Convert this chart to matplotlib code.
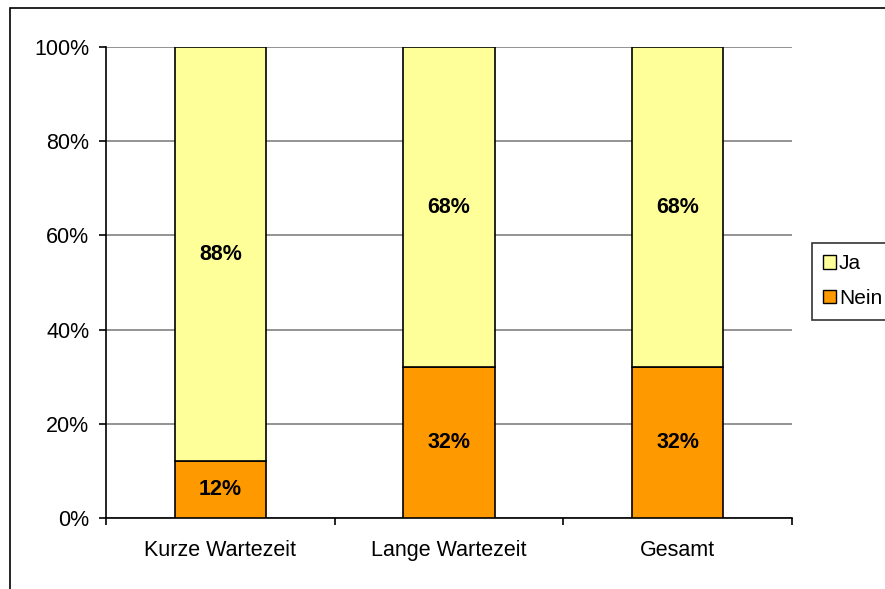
import matplotlib.pyplot as plt
from matplotlib.patches import Patch, Rectangle
import numpy as np

plt.rcParams['font.family'] = ['Liberation Sans', 'DejaVu Sans']

# Data
categories = ["Kurze Wartezeit", "Lange Wartezeit", "Gesamt"]
nein = [12, 32, 32]
ja = [88, 68, 68]
series_names = ["Ja", "Nein"]
col_ja = "#FFFF99"
col_nein = "#FF9900"

fig = plt.figure(figsize=(8.85, 5.89), dpi=100)
ax = fig.add_axes([106 / 885, 71 / 589, 686 / 885, 471 / 589])

x = np.arange(len(categories))
ax.bar(x, nein, width=0.4, color=col_nein, edgecolor="black", linewidth=1.2, zorder=3)
ax.bar(x, ja, width=0.4, bottom=nein, color=col_ja, edgecolor="black", linewidth=1.2, zorder=3)

for i in range(len(categories)):
    ax.text(x[i], nein[i] / 2, f"{nein[i]}%", ha="center", va="center",
            fontsize=15.5, fontweight="bold", zorder=4)
    ax.text(x[i], nein[i] + ja[i] / 2, f"{ja[i]}%", ha="center", va="center",
            fontsize=15.5, fontweight="bold", zorder=4)

ax.set_xlim(-0.5, len(categories) - 0.5)
ax.set_ylim(0, 100)
ax.set_yticks(np.arange(0, 101, 20))
ax.set_yticklabels([f"{v}%" for v in range(0, 101, 20)], fontsize=15.5)
ax.set_xticks(x)
ax.set_xticklabels(categories, fontsize=15.5)
ax.tick_params(axis="x", length=0, pad=16)
ax.set_xticks(np.arange(-0.5, len(categories), 1), minor=True)
ax.tick_params(axis="x", which="minor", length=5, direction="out", width=1.2)
ax.tick_params(axis="y", length=5, direction="out", width=1.2, pad=7)

ax.grid(axis="y", color="#808080", linewidth=1.2, zorder=0)
ax.spines["top"].set_visible(False)
ax.spines["right"].set_visible(False)
ax.spines["left"].set_linewidth(1.2)
ax.spines["bottom"].set_linewidth(1.2)

# outer chart frame
fig.patches.append(Rectangle((10 / 885, -0.1), 1.2, (589 - 8) / 589 + 0.1,
                             transform=fig.transFigure, fill=False,
                             edgecolor="black", linewidth=1.2))

handles = [Patch(facecolor=col_ja, edgecolor="black"),
           Patch(facecolor=col_nein, edgecolor="black")]
leg = fig.legend(handles, series_names, loc="upper left",
                 bbox_to_anchor=(812 / 885, 1 - 243 / 589), fontsize=15,
                 frameon=True, fancybox=False, edgecolor="black",
                 handlelength=0.6, handleheight=0.6, handletextpad=0.15,
                 borderpad=0.55, labelspacing=0.75, borderaxespad=0)
leg.get_frame().set_linewidth(1.2)

fig.savefig("out.png", dpi=100)
